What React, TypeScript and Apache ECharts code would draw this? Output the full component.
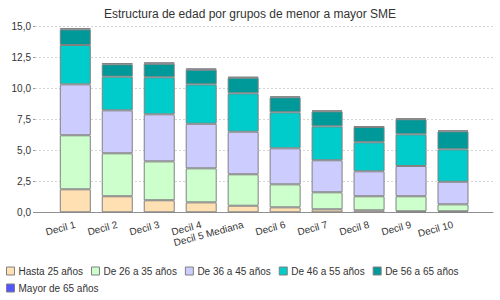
import React, { useEffect, useRef } from "react";
import * as echarts from "echarts";

const categories = ["Decil 1", "Decil 2", "Decil 3", "Decil 4", "Decil 5 Mediana", "Decil 6", "Decil 7", "Decil 8", "Decil 9", "Decil 10"];
const seriesNames = ["Hasta 25 años", "De 26 a 35 años", "De 36 a 45 años", "De 46 a 55 años", "De 56 a 65 años", "Mayor de 65 años"];
const hasta25 = [1.85, 1.29, 0.97, 0.8, 0.53, 0.4, 0.24, 0.16, 0.08, 0.08];
const de26a35 = [4.35, 3.46, 3.13, 2.74, 2.53, 1.85, 1.37, 1.13, 1.21, 0.56];
const de36a45 = [4.1, 3.46, 3.79, 3.59, 3.43, 2.9, 2.58, 2.01, 2.44, 1.82];
const de46a55 = [3.17, 2.71, 2.98, 3.17, 3.09, 2.9, 2.73, 2.34, 2.55, 2.61];
const de56a65 = [1.26, 1.0, 1.09, 1.18, 1.26, 1.21, 1.21, 1.23, 1.21, 1.45];
const mayor65 = [0.1, 0.1, 0.12, 0.11, 0.07, 0.08, 0.08, 0.05, 0.08, 0.08];
const yTicks = { min: 0, max: 15, interval: 2.5 };
const colors = ["#FFE0B2", "#CCFFCC", "#CCCCFF", "#00CCCC", "#009999", "#5555FF"];

const FONT = "Liberation Sans";

export default function App() {
  const ref = useRef<HTMLDivElement>(null);
  useEffect(() => {
    if (!ref.current) return;
    const chart = echarts.init(ref.current, undefined, { renderer: "svg" });
    const values = [hasta25, de26a35, de36a45, de46a55, de56a65, mayor65];
    const legendBase = {
      left: 6,
      padding: 0,
      itemWidth: 8,
      itemHeight: 8,
      itemGap: 8,
      icon: "rect",
      itemStyle: { borderColor: "#808080", borderWidth: 1 },
      textStyle: { fontSize: 10, color: "#333", fontFamily: FONT, padding: [0, 0, 0, -1] },
    };
    chart.setOption({
      animation: false,
      color: colors,
      title: {
        text: "Estructura de edad por grupos de menor a mayor SME",
        left: "center",
        top: 3,
        textStyle: { fontSize: 12, fontWeight: "normal", color: "#333", fontFamily: FONT },
      },
      legend: [
        { ...legendBase, top: 266, data: seriesNames.slice(0, 5) },
        { ...legendBase, top: 283, data: seriesNames.slice(5) },
      ],
      grid: [
        { left: 35, right: 7, top: 26, height: 186.3 },
        { left: 54.3, right: 26, top: 26, height: 186.3 },
      ],
      xAxis: [
        {
          gridIndex: 0,
          type: "category",
          data: categories,
          axisLine: { show: true, lineStyle: { color: "#909090" } },
          axisTick: { show: false },
          axisLabel: { show: false },
        },
        {
          gridIndex: 1,
          type: "category",
          data: categories,
          axisLine: { show: false },
          axisTick: { show: false },
          axisLabel: {
            rotate: 15,
            interval: 0,
            margin: 12,
            fontSize: 10,
            color: "#333",
            fontFamily: FONT,
          },
        },
      ],
      yAxis: [
        {
          gridIndex: 0,
          type: "value",
          min: yTicks.min,
          max: yTicks.max,
          interval: yTicks.interval,
          axisLine: { show: false },
          axisTick: { show: true, length: 2, lineStyle: { color: "#909090" } },
          axisLabel: {
            fontSize: 10,
            color: "#333",
            fontFamily: FONT,
            margin: 4,
            formatter: (v: number) => v.toFixed(1).replace(".", ","),
          },
          splitLine: { show: true, lineStyle: { color: "#d4d4d4", type: [2, 2], width: 1 } },
        },
        {
          gridIndex: 1,
          type: "value",
          min: yTicks.min,
          max: yTicks.max,
          interval: yTicks.interval,
          show: false,
          splitLine: { show: false },
        },
      ],
      series: seriesNames.map((name, i) => ({
        name,
        type: "bar",
        stack: "total",
        xAxisIndex: 1,
        yAxisIndex: 1,
        barWidth: 31,
        data: values[i],
        itemStyle: { color: colors[i], borderColor: "#808080", borderWidth: 1 },
      })),
    });
    return () => chart.dispose();
  }, []);
  return <div ref={ref} style={{ width: 500, height: 300, position: "absolute", left: 0, top: 0 }} />;
}
